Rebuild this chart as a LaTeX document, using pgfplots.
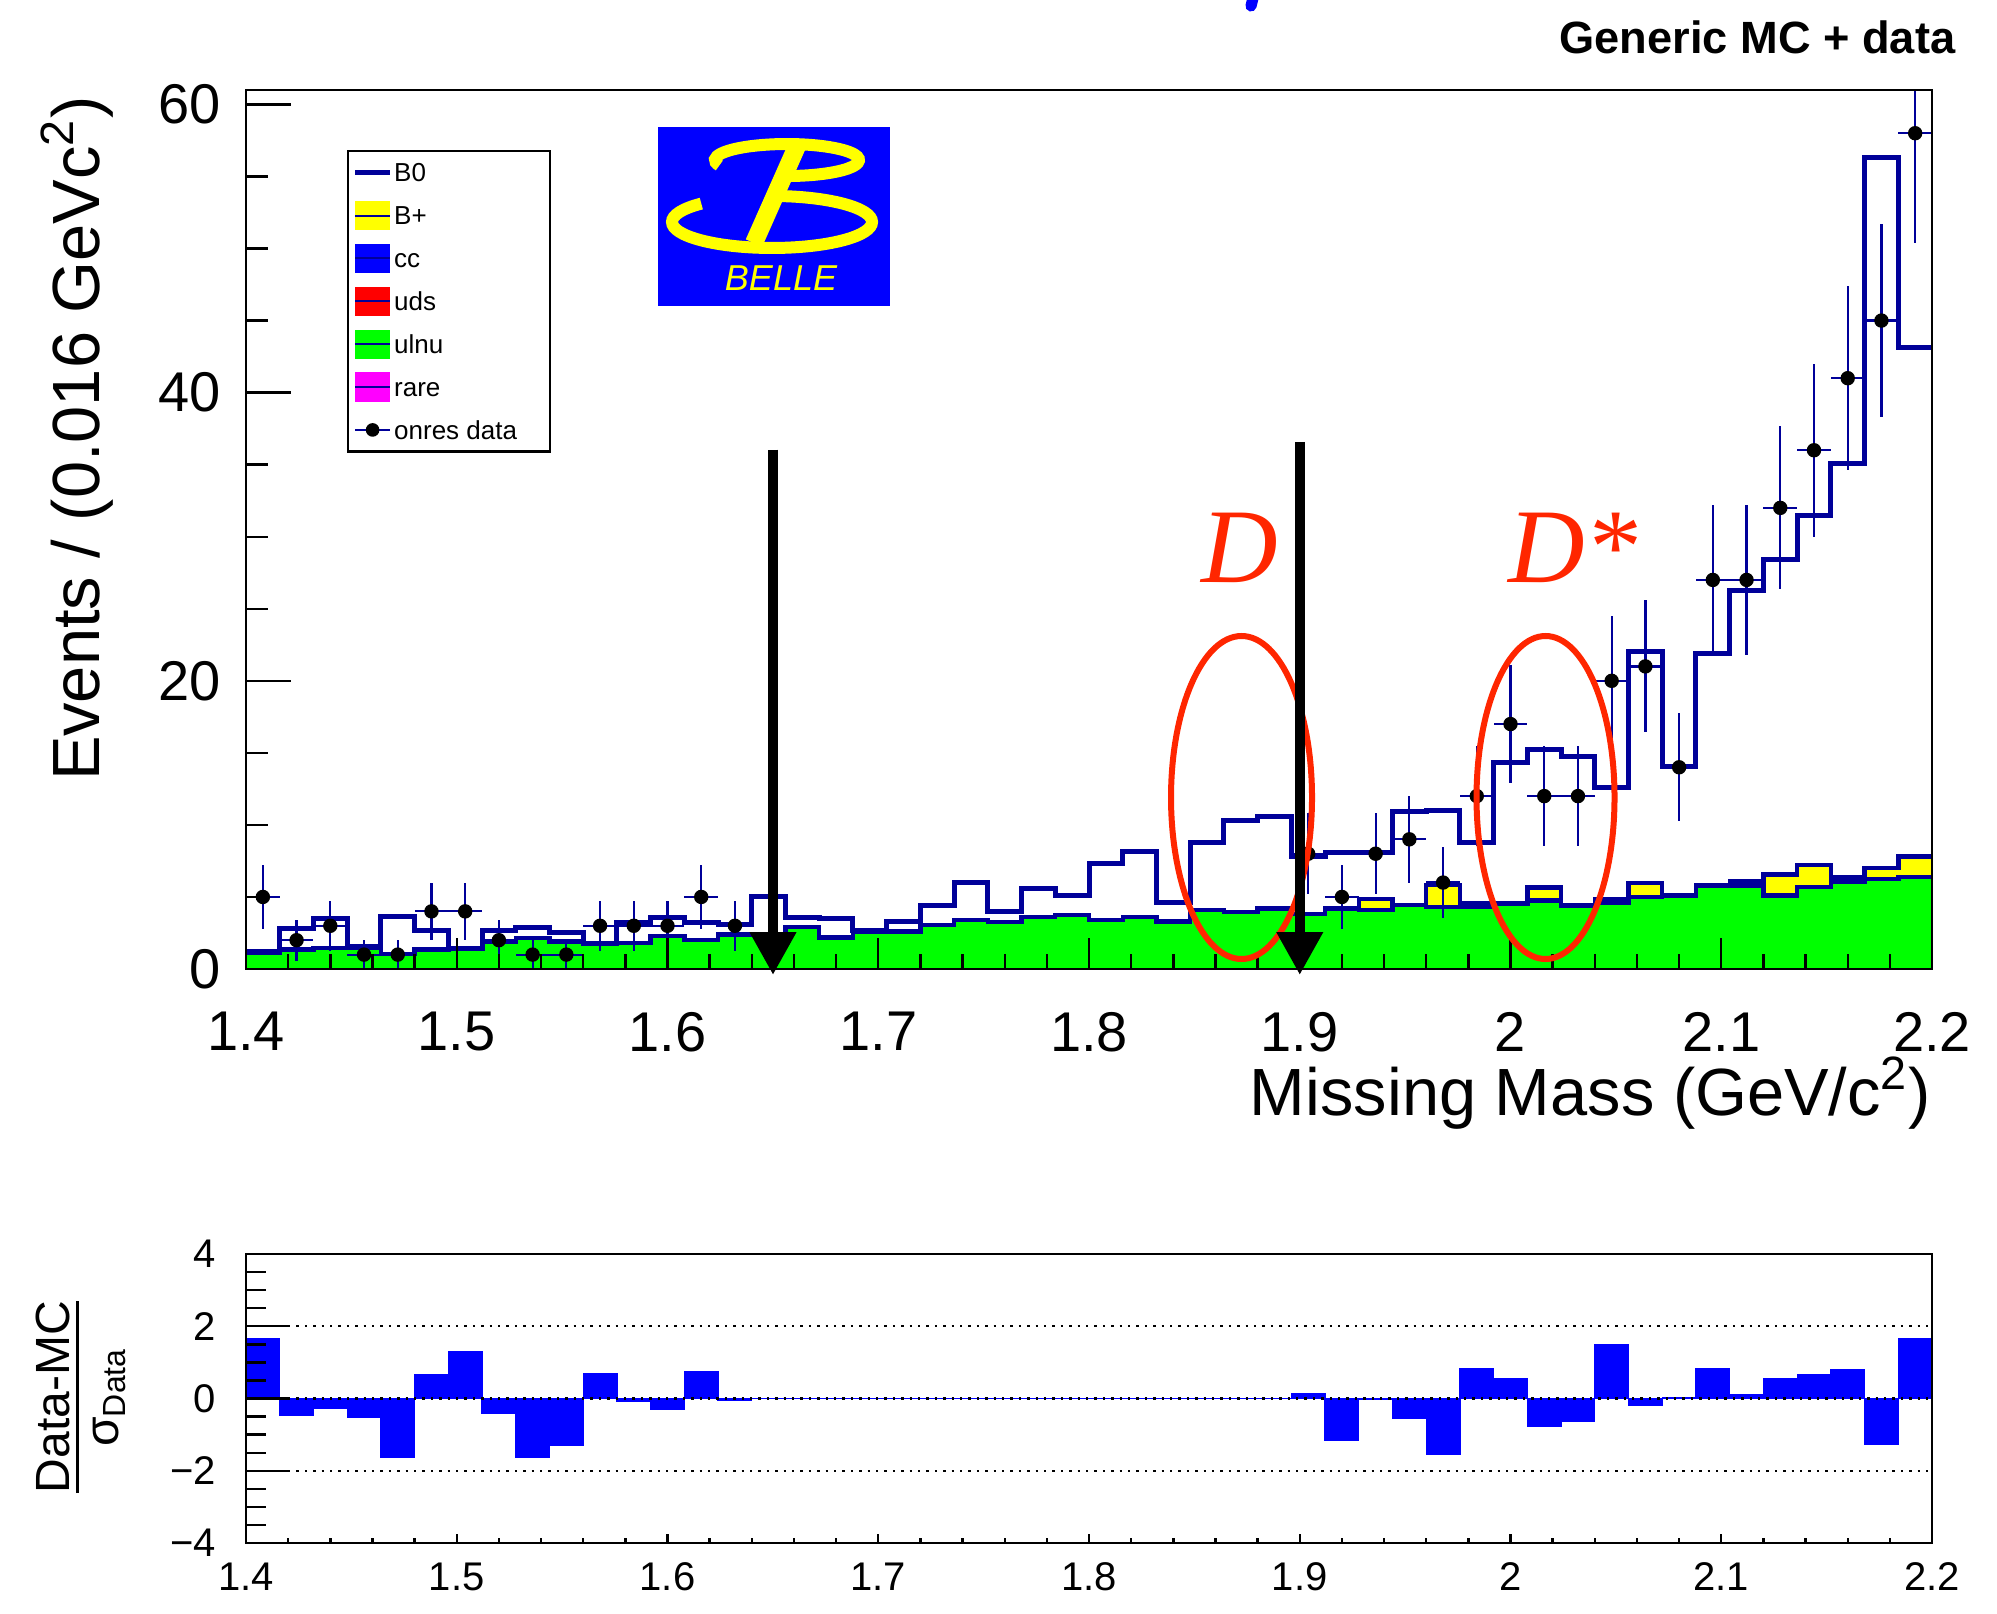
\documentclass[border=0pt]{standalone}
\usepackage{pgfplots}
\pgfplotsset{compat=1.18}
\usepackage{pgfplotstable}
\usepackage{fontspec}
\setmainfont{Liberation Sans}
\newfontfamily\serifit{Liberation Serif}
\usetikzlibrary{arrows.meta}

\definecolor{navy}{RGB}{0,0,153}
\definecolor{rootyellow}{RGB}{255,255,0}
\definecolor{rootgreen}{RGB}{0,255,0}
\definecolor{rootblue}{RGB}{0,0,255}
\definecolor{rootred}{RGB}{255,0,0}
\definecolor{rootmagenta}{RGB}{255,0,255}
\definecolor{markred}{RGB}{255,38,0}

% MC stack per bin (left edge): B0 total, cumulative to B+, cumulative to rare, ulnu, pull
\pgfplotstableread{
x      tot    bp    rr    g     pull
1.400  1.25   1.10  1.10  1.10  1.67
1.416  2.80   1.35  1.35  1.35  -0.46
1.432  3.50   1.45  1.45  1.45  -0.26
1.448  1.55   1.50  1.50  1.50  -0.51
1.464  3.65   1.05  1.05  1.05  -1.62
1.480  2.70   1.35  1.35  1.35  0.65
1.496  1.45   1.40  1.40  1.40  1.31
1.512  2.65   1.90  1.90  1.90  -0.41
1.528  2.90   2.15  2.15  2.15  -1.62
1.544  2.50   1.90  1.90  1.90  -1.31
1.560  1.80   1.75  1.75  1.75  0.70
1.576  3.20   1.80  1.80  1.80  -0.09
1.592  3.60   2.30  2.30  2.30  -0.31
1.608  3.20   2.00  2.00  2.00  0.75
1.624  3.10   2.40  2.40  2.40  -0.06
1.640  5.00   2.45  2.45  2.45  0
1.656  3.60   2.90  2.90  2.90  0
1.672  3.50   2.20  2.20  2.20  0
1.688  2.70   2.55  2.55  2.55  0
1.704  3.30   2.60  2.60  2.60  0
1.720  4.40   3.05  3.05  3.05  0
1.736  6.00   3.40  3.40  3.40  0
1.752  4.00   3.25  3.25  3.25  0
1.768  5.60   3.60  3.60  3.60  0
1.784  5.10   3.75  3.75  3.75  0
1.800  7.35   3.40  3.40  3.40  0
1.816  8.15   3.60  3.60  3.60  0
1.832  4.65   3.30  3.30  3.30  0
1.848  8.75   4.10  4.10  4.10  0
1.864  10.30  3.95  3.95  3.95  0
1.880  10.60  4.20  4.20  4.20  0
1.896  7.80   3.80  3.80  3.80  0.14
1.912  8.10   4.20  4.20  4.20  -1.15
1.928  8.10   4.85  4.10  4.10  -0.03
1.944  10.90  4.45  4.45  4.45  -0.55
1.960  11.00  5.85  4.30  4.30  -1.56
1.976  8.80   4.60  4.60  4.30  0.83
1.992  14.35  4.55  4.55  4.55  0.54
2.008  15.20  5.65  4.75  4.75  -0.77
2.024  14.75  4.40  4.40  4.40  -0.64
2.040  12.60  4.85  4.60  4.60  1.48
2.056  22.00  5.95  5.00  5.00  -0.18
2.072  14.05  5.10  5.10  5.10  0.02
2.088  21.90  5.80  5.80  5.80  0.83
2.104  26.30  6.10  6.10  5.80  0.12
2.120  28.40  6.55  5.10  5.10  0.55
2.136  31.50  7.20  5.70  5.70  0.65
2.152  35.10  6.35  6.35  6.05  0.79
2.168  56.30  7.00  6.25  6.25  -1.28
2.184  43.10  7.80  6.40  6.40  1.66
2.200  43.10  7.80  6.40  6.40  1.66
}\mc

% on-resonance data: bin centre, events, sqrt(N)
\pgfplotstableread{
x      y   ey
1.408  5   2.236
1.424  2   1.414
1.440  3   1.732
1.456  1   1
1.472  1   1
1.488  4   2
1.504  4   2
1.520  2   1.414
1.536  1   1
1.552  1   1
1.568  3   1.732
1.584  3   1.732
1.600  3   1.732
1.616  5   2.236
1.632  3   1.732
1.904  8   2.828
1.920  5   2.236
1.936  8   2.828
1.952  9   3
1.968  6   2.449
1.984  12  3.464
2.000  17  4.123
2.016  12  3.464
2.032  12  3.464
2.048  20  4.472
2.064  21  4.583
2.080  14  3.742
2.096  27  5.196
2.112  27  5.196
2.128  32  5.657
2.144  36  6
2.160  41  6.403
2.176  45  6.708
2.192  58  7.616
}\onres

\pgfplotsset{
  rootframe/.style={
    scale only axis, width=421.5pt,
    xmin=1.4, xmax=2.2,
    axis line style={line width=0.65pt},
    tick pos=left, tick align=inside,
    tick style={line width=0.6pt, black},
  },
  swatch/.style={legend image code/.code={
      \path[draw=none, fill=#1] (0pt,-3.65pt) rectangle (8.6pt,3.65pt);
      \path[draw=navy, line width=0.5pt] (0pt,0pt) -- (8.6pt,0pt);}},
}

\begin{document}
\begin{tikzpicture}
\path[use as bounding box] (0pt,0pt) rectangle (499.25pt,-403.25pt);

% ---------------- upper panel: stacked MC and data ----------------
\begin{axis}[
  rootframe,
  at={(61.5pt,-242.25pt)}, anchor=south west,
  height=219.75pt, ymin=0, ymax=61,
  axis on top,
  xtick={1.4,1.5,1.6,1.7,1.8,1.9,2.0,2.1,2.2},
  xticklabels={1.4,1.5,1.6,1.7,1.8,1.9,2,2.1,2.2},
  minor x tick num=4,
  ytick=\empty,
  major tick length=7.75pt, minor tick length=3.75pt,
  xticklabel style={font=\fontsize{14}{14}\selectfont, yshift=-7.2pt},
  legend cell align=left,
  legend style={at={(0.0599,0.9317)}, anchor=north west,
    draw=black, line width=0.6pt, fill=white,
    font=\fontsize{6.5}{6.5}\selectfont,
    inner xsep=1.2pt, inner ysep=1.7pt, row sep=3.42pt,
    nodes={inner sep=0pt, text height=4.65pt, text depth=0pt},
    /tikz/every odd column/.append style={column sep=0.5pt}},
]
\addlegendimage{legend image code/.code={
    \path[draw=none, fill=none] (0pt,-3.65pt) rectangle (8.6pt,3.65pt);
    \path[draw=navy, line width=1.2pt] (0pt,0pt) -- (8.6pt,0pt);}}
\addlegendentry{B0}
\addlegendimage{swatch=rootyellow}\addlegendentry{B+}
\addlegendimage{swatch=rootblue}\addlegendentry{cc}
\addlegendimage{swatch=rootred}\addlegendentry{uds}
\addlegendimage{swatch=rootgreen}\addlegendentry{ulnu}
\addlegendimage{swatch=rootmagenta}\addlegendentry{rare}
\addlegendimage{legend image code/.code={
    \path[draw=none, fill=none] (0pt,-3.65pt) rectangle (8.6pt,3.65pt);
    \path[draw=navy, line width=0.5pt] (0pt,0pt) -- (8.6pt,0pt);
    \path[draw=black, fill=black, line width=0.4pt] plot[mark=*, mark size=1.5pt] coordinates {(4.3pt,0pt)};}}
\addlegendentry{\makebox[37.7pt][l]{onres data}}

% filled components
\addplot[const plot, fill=rootyellow, draw=none, forget plot] table[x=x, y=bp] {\mc} \closedcycle;
\addplot[const plot, fill=rootmagenta, draw=none, forget plot] table[x=x, y=rr] {\mc} \closedcycle;
\addplot[const plot, fill=rootgreen, draw=none, forget plot] table[x=x, y=g] {\mc} \closedcycle;
% outlines
\addplot[const plot, navy, line width=1.25pt, forget plot] table[x=x, y=tot] {\mc};
\addplot[const plot, navy, line width=1.1pt, forget plot] table[x=x, y=bp] {\mc};
\addplot[const plot, navy, line width=1.1pt, forget plot] table[x=x, y=g] {\mc};
% data
\addplot[only marks, mark=*, mark size=1.6pt, black, forget plot,
  error bars/.cd, x dir=both, x fixed=0.008, y dir=both, y explicit,
  error bar style={navy, line width=0.55pt}, error mark=none]
  table[x=x, y=y, y error=ey] {\onres};
\end{axis}

% y ticks of the upper panel
\begin{axis}[
  rootframe,
  at={(61.5pt,-242.25pt)}, anchor=south west,
  height=219.75pt, ymin=0, ymax=61,
  xtick=\empty,
  ytick={0,20,40,60}, yticklabels={0,20,40,60},
  minor y tick num=3,
  major tick length=11.25pt, minor tick length=5.5pt,
  yticklabel style={font=\fontsize{14}{14}\selectfont, xshift=-2.7pt},
]
\end{axis}

% ---------------- lower panel: pulls ----------------
\begin{axis}[
  rootframe,
  at={(61.5pt,-385.75pt)}, anchor=south west,
  height=72.25pt, ymin=-4, ymax=4,
  axis on top,
  xtick={1.4,1.5,1.6,1.7,1.8,1.9,2.0,2.1,2.2},
  xticklabels={1.4,1.5,1.6,1.7,1.8,1.9,2,2.1,2.2},
  minor x tick num=4,
  ytick=\empty,
  major tick length=2.25pt, minor tick length=1.25pt,
  xticklabel style={font=\fontsize{10}{10}\selectfont, yshift=-1.35pt},
]
\addplot[const plot, fill=rootblue, draw=rootblue, line width=0.3pt] table[x=x, y=pull] {\mc} \closedcycle;
\addplot[black, line width=0.6pt, dash pattern=on 0.6pt off 1.5pt] coordinates {(1.4,2) (2.2,2)};
\addplot[black, line width=0.6pt, dash pattern=on 0.6pt off 1.5pt] coordinates {(1.4,0) (2.2,0)};
\addplot[black, line width=0.6pt, dash pattern=on 0.6pt off 1.5pt] coordinates {(1.4,-2) (2.2,-2)};
\end{axis}

\begin{axis}[
  rootframe,
  at={(61.5pt,-385.75pt)}, anchor=south west,
  height=72.25pt, ymin=-4, ymax=4,
  xtick=\empty,
  ytick={-4,-2,0,2,4}, yticklabels={−4,−2,0,2,4},
  minor y tick num=3,
  major tick length=10.75pt, minor tick length=5pt,
  yticklabel style={font=\fontsize{10}{10}\selectfont, xshift=-4pt},
]
\end{axis}

% ---------------- titles and annotations ----------------
\begin{scope}[x=0.25pt, y=-0.25pt]
\node[rotate=90, anchor=base east, inner sep=0pt, font=\fontsize{16.7}{16.7}\selectfont]
  at (99,95) {Events / (0.016 GeVc\textsuperscript{2})};
\node[anchor=base east, inner sep=0pt, font=\fontsize{16.7}{16.7}\selectfont]
  at (1932,1115) {Missing Mass (GeV/c\textsuperscript{2})};
\node[anchor=base east, inner sep=0pt, font=\bfseries\fontsize{11.3}{11.3}\selectfont]
  at (1956,54) {Generic MC + data};
\node[rotate=90, inner sep=0pt, font=\fontsize{12}{12}\selectfont] at (81,1397)
  {\vbox{\offinterlineskip\halign{\hfil#\hfil\cr
     Data-MC\cr
     \noalign{\kern1.4pt\hrule height 0.7pt\kern1.6pt}
     \vphantom{D}σ\textsubscript{Data}\cr}}};

% tail of the clipped title
\draw[rootblue, line width=2.8pt, line cap=round] (1253,-2) -- (1251,6);

% Belle logo
\fill[rootblue] (658,127) rectangle (890,306);
\draw[rootyellow, line width=3pt] (719.3,165.5) arc[start angle=-200, end angle=95, x radius=72, y radius=16];
\draw[rootyellow, line width=3pt] (701.3,203.6) arc[start angle=-135, end angle=-448, x radius=100, y radius=26];
\draw[rootyellow, line width=4.5pt] (797,146) -- (754,243);
\node[text=rootyellow, font=\itshape\fontsize{9}{9}\selectfont, inner sep=0pt] at (781,278) {BELLE};

% signal windows
\draw[markred, line width=1.5pt] (1241.5,797.5) ellipse [x radius=70.5, y radius=161.5];
\draw[markred, line width=1.5pt] (1545.5,797.5) ellipse [x radius=69, y radius=161.5];
\node[anchor=base, inner sep=0pt, text=markred, font=\serifit\itshape\fontsize{26.5}{26.5}\selectfont] at (1240,583) {D};
\node[anchor=base, inner sep=0pt, text=markred, font=\serifit\itshape\fontsize{26.5}{26.5}\selectfont] at (1573,583) {D*};

% blinded-region boundaries
\draw[black, line width=2.6pt, -{Triangle[width=11pt, length=10.75pt]}] (773,449.6) -- (773,975);
\draw[black, line width=2.6pt, -{Triangle[width=11pt, length=10.75pt]}] (1299.75,442) -- (1299.75,975);
\end{scope}
\end{tikzpicture}
\end{document}
